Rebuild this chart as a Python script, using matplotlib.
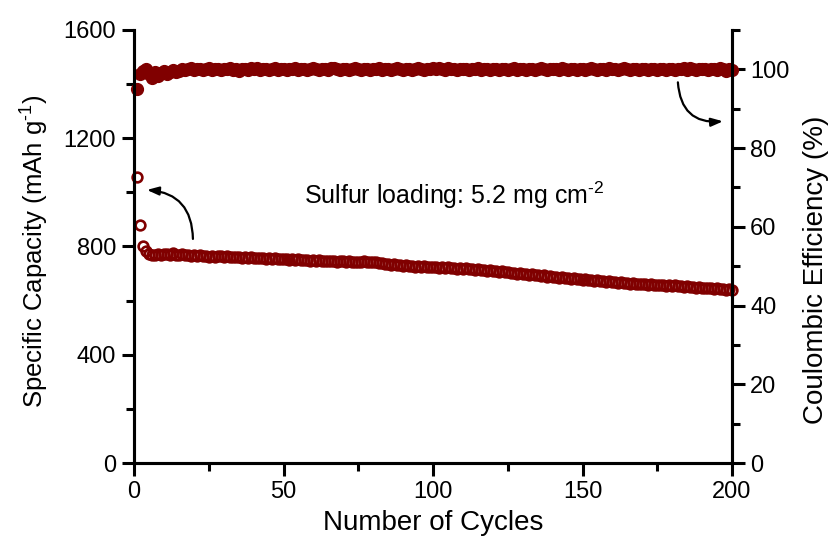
import numpy as np
from matplotlib import pyplot as plt
from matplotlib.ticker import MultipleLocator

plt.rcParams['font.family'] = ['Liberation Sans', 'DejaVu Sans']
plt.rcParams['mathtext.fontset'] = 'custom'
plt.rcParams['mathtext.rm'] = 'Liberation Sans'
plt.rcParams['mathtext.it'] = 'Liberation Sans'

# discharge capacity per cycle (mAh/g), cycles 1..200
capacity = [
    1055, 878, 802, 783, 772, 768, 770, 772, 768, 771,
    773, 770, 775, 770, 768, 771, 767, 769, 766, 768,
    765, 767, 764, 766, 763, 765, 762, 766, 764, 763,
    765, 761, 763, 760, 762, 759, 761, 758, 760, 757,
    759, 756, 758, 755, 757, 754, 756, 753, 755, 752,
    754, 751, 753, 750, 752, 749, 751, 750, 748, 750,
    747, 749, 746, 748, 745, 747, 746, 744, 746, 745,
    743, 745, 744, 742, 744, 743, 745, 742, 744, 741,
    742, 739, 740, 736, 737, 733, 734, 730, 732, 728,
    730, 727, 729, 726, 728, 725, 727, 724, 726, 723,
    725, 722, 724, 721, 723, 720, 722, 718, 720, 717,
    719, 716, 717, 714, 716, 712, 714, 710, 712, 708,
    710, 706, 708, 704, 706, 702, 703, 699, 701, 697,
    699, 695, 697, 693, 695, 691, 693, 689, 691, 688,
    689, 685, 687, 683, 685, 681, 683, 679, 681, 678,
    679, 676, 677, 673, 675, 671, 673, 669, 671, 668,
    669, 666, 667, 664, 666, 662, 664, 661, 663, 660,
    662, 659, 660, 657, 659, 656, 658, 655, 657, 654,
    656, 653, 655, 651, 653, 650, 652, 648, 650, 646,
    648, 645, 646, 643, 645, 642, 644, 641, 643, 640,
]

# coulombic efficiency per cycle (%)
efficiency = [
    95.0, 98.8, 99.6, 100.2, 98.9, 97.9, 99.3, 98.2, 99.0, 99.5,
    98.7, 99.2, 99.8, 99.4, 99.7, 100.1, 99.8, 100.0, 100.3, 99.9,
    100.2, 100.0, 99.8, 100.1, 100.3, 99.9, 100.0, 100.2, 99.8, 100.1,
    100.0, 100.3, 99.9, 100.1, 99.7, 100.2, 100.0, 99.9, 100.3, 100.1,
    100.4, 99.8, 100.0, 100.2, 99.9, 100.1, 100.3, 99.8, 100.0, 100.2,
    99.9, 100.1, 100.0, 100.3, 99.8, 100.2, 100.0, 99.9, 100.1, 100.3,
    100.0, 99.8, 100.2, 100.1, 99.9, 100.4, 100.3, 100.0, 99.8, 100.1,
    100.2, 99.9, 100.0, 100.3, 100.1, 99.8, 100.0, 100.2, 99.9, 100.1,
    100.0, 100.3, 99.8, 100.1, 100.2, 99.9, 100.0, 100.3, 100.1, 99.8,
    100.0, 100.2, 99.9, 100.1, 100.3, 100.0, 99.8, 100.2, 100.1, 100.3,
    100.2, 100.4, 100.1, 99.9, 100.3, 100.0, 100.2, 99.8, 100.1, 100.0,
    100.2, 99.9, 100.1, 100.0, 100.3, 99.8, 100.0, 100.2, 99.9, 100.1,
    100.0, 99.8, 100.2, 100.1, 99.9, 100.0, 100.3, 99.8, 100.1, 100.0,
    99.9, 100.2, 100.0, 99.8, 100.1, 100.3, 100.0, 99.9, 100.2, 100.0,
    100.1, 99.8, 100.3, 100.2, 99.9, 100.0, 100.1, 99.8, 100.2, 100.0,
    99.9, 100.1, 100.3, 100.0, 99.8, 100.2, 100.1, 99.9, 100.3, 100.0,
    100.2, 99.9, 100.1, 100.3, 100.0, 99.8, 100.2, 100.1, 99.9, 100.0,
    100.1, 99.8, 100.0, 100.2, 99.9, 100.1, 100.0, 99.8, 100.2, 100.0,
    99.9, 100.1, 100.0, 100.3, 99.8, 100.4, 100.0, 99.9, 100.2, 100.1,
    100.0, 99.8, 100.2, 100.1, 99.9, 100.3, 100.0, 99.7, 100.1, 99.8,
]

cycles = np.arange(1, len(capacity) + 1)
red = '#800000'

fig = plt.figure(figsize=(8.34, 5.52), dpi=100)
ax = fig.add_axes([0.1607, 0.1612, 0.717, 0.7845])
ax2 = ax.twinx()

ax.plot(cycles, capacity, 'o', mfc='none', mec=red, mew=1.9, ms=7, clip_on=False)
ax2.plot(cycles, efficiency, 'o', color=red, ms=8.5, clip_on=False)

ax.set_xlim(0, 200)
ax.set_ylim(0, 1600)
ax2.set_ylim(0, 110)

ax.xaxis.set_major_locator(MultipleLocator(50))
ax.xaxis.set_minor_locator(MultipleLocator(25))
ax.yaxis.set_major_locator(MultipleLocator(400))
ax.yaxis.set_minor_locator(MultipleLocator(200))
ax2.yaxis.set_major_locator(MultipleLocator(20))
ax2.yaxis.set_minor_locator(MultipleLocator(10))

for a in (ax, ax2):
    for side in ('left', 'right', 'bottom'):
        a.spines[side].set_linewidth(2.2)
    a.spines['top'].set_visible(False)
    a.tick_params(which='major', direction='out', length=9, width=2.2, labelsize=17, pad=4)
    a.tick_params(which='minor', direction='out', length=5.5, width=2.2)
ax.tick_params(axis='y', right=False)

# plain hyphen in the superscripts instead of the mathtext minus
ax.set_xlabel('Number of Cycles', fontsize=20, labelpad=5)
ax.set_ylabel('Specific Capacity (mAh g$^{\u20101}$)', fontsize=18.5, labelpad=9)
ax2.set_ylabel('Coulombic Efficiency (%)', fontsize=20, labelpad=10)
ax.yaxis.label.set_y(0.49)
ax2.yaxis.label.set_y(0.446)

ax.text(57, 990, 'Sulfur loading: 5.2 mg cm$^{\u20102}$', fontsize=18, va='center', ha='left')

arrow = dict(arrowstyle='-|>,head_length=0.7,head_width=0.25', color='black', lw=1.6,
             shrinkA=0, shrinkB=0)
ax.annotate('', xy=(4.3, 1009), xytext=(19.7, 828),
            arrowprops=dict(arrow, connectionstyle='arc3,rad=0.45'))
ax2.annotate('', xy=(197, 86.8), xytext=(181.9, 96.7),
             arrowprops=dict(arrow, connectionstyle='arc3,rad=0.5'))

fig.savefig('out.png', dpi=100)
